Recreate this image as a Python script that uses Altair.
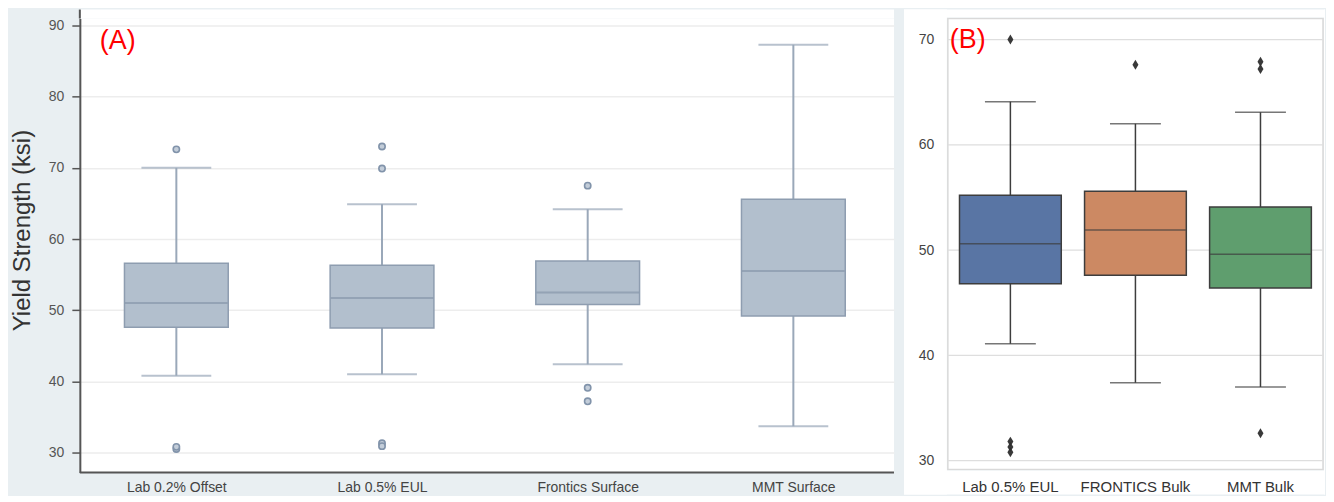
import json
import altair as alt
import pandas as pd

# ---------------- Panel A data (box statistics) ----------------
A_CATS = ["Lab 0.2% Offset", "Lab 0.5% EUL", "Frontics Surface", "MMT Surface"]
A_LO = [40.8, 41.0, 42.4, 33.7]
A_Q1 = [47.6, 47.5, 50.8, 49.2]
A_MED = [51.0, 51.7, 52.5, 55.5]
A_Q3 = [56.6, 56.3, 56.9, 65.6]
A_HI = [70.0, 64.9, 64.2, 87.3]
A_OUT_CAT = ["Lab 0.2% Offset", "Lab 0.2% Offset", "Lab 0.2% Offset",
             "Lab 0.5% EUL", "Lab 0.5% EUL", "Lab 0.5% EUL", "Lab 0.5% EUL",
             "Frontics Surface", "Frontics Surface", "Frontics Surface"]
A_OUT_VAL = [72.6, 30.5, 30.8, 73.0, 69.9, 31.3, 30.9, 67.5, 39.1, 37.2]
A_TICKS = [30, 40, 50, 60, 70, 80, 90]

# ---------------- Panel B data ----------------
B_CATS = ["Lab 0.5% EUL", "FRONTICS Bulk", "MMT Bulk"]
B_LO = [41.1, 37.4, 37.0]
B_Q1 = [46.8, 47.6, 46.4]
B_MED = [50.6, 51.9, 49.6]
B_Q3 = [55.2, 55.6, 54.1]
B_HI = [64.1, 62.0, 63.1]
B_OUT_CAT = ["Lab 0.5% EUL", "Lab 0.5% EUL", "Lab 0.5% EUL", "Lab 0.5% EUL",
             "FRONTICS Bulk", "MMT Bulk", "MMT Bulk", "MMT Bulk"]
B_OUT_VAL = [70.0, 31.8, 31.3, 30.8, 67.6, 67.9, 67.2, 32.6]
B_COLORS = ["#5975a4", "#cc8963", "#5f9e6e"]
B_TICKS = [30, 40, 50, 60, 70]

FONT = "Liberation Sans"
BG = "#e9eff2"

A_POS = list(range(1, len(A_CATS) + 1))
a_box = pd.DataFrame({"cat": A_CATS, "pos": A_POS, "lo": A_LO, "q1": A_Q1, "med": A_MED,
                      "q3": A_Q3, "hi": A_HI})
a_out = pd.DataFrame({"cat": A_OUT_CAT, "pos": [A_CATS.index(c) + 1 for c in A_OUT_CAT],
                      "v": A_OUT_VAL})
b_box = pd.DataFrame({"cat": B_CATS, "lo": B_LO, "q1": B_Q1, "med": B_MED, "q3": B_Q3, "hi": B_HI})
b_out = pd.DataFrame({"cat": B_OUT_CAT, "v": B_OUT_VAL})
b_grid = pd.DataFrame({"g": B_TICKS})
one = pd.DataFrame({"k": [0]})

# ---------------- Panel A ----------------
WA, HA = 816, 455
xA_scale = alt.Scale(domain=[0.555, 4.465], nice=False, zero=False)
xA = alt.X("pos:Q", scale=xA_scale,
           axis=alt.Axis(title=None, values=A_POS, labelExpr=f"{json.dumps(A_CATS)}[datum.value - 1]",
                         labelAngle=0, ticks=False, domain=False, grid=False,
                         labelFont=FONT, labelFontSize=14, labelColor="#444444",
                         labelPadding=8))
yA_scale = alt.Scale(domain=[27.2, 90.98], nice=False, zero=False)
yA = alt.Y("q1:Q", scale=yA_scale,
           axis=alt.Axis(title="Yield Strength (ksi)", values=A_TICKS, grid=True,
                         gridColor="#ededed", gridWidth=1.5, domainColor="#555555", domainWidth=2,
                         tickColor="#555555", tickWidth=1.5, tickSize=8, labelPadding=8,
                         labelFont=FONT, labelFontSize=14, labelColor="#555555",
                         minExtent=32, maxExtent=32, titlePadding=13, titleFont=FONT,
                         titleFontSize=24, titleFontWeight="normal", titleColor="#333333",
                         titleY=212))

A_BOX_FILL = "#b2bfcd"
A_STROKE = "#8e9db0"
A_WHISK = "#9aa8b9"

# decorations: white strip above plot, y-axis line extension, bottom axis line, left anchor
a_top_bg = alt.Chart(one).mark_rect(fill="white").encode(
    x=alt.value(0), x2=alt.value(WA), y=alt.value(-9), y2=alt.value(0))
a_top_axis = alt.Chart(one).mark_rule(color="#555555", strokeWidth=2).encode(
    x=alt.value(0), y=alt.value(-9), y2=alt.value(0))
a_bottom_axis = alt.Chart(one).mark_rule(color="#555555", strokeWidth=2).encode(
    x=alt.value(0), x2=alt.value(WA), y=alt.value(HA))
a_anchor = alt.Chart(one).mark_rect(fill=BG).encode(
    x=alt.value(-72), x2=alt.value(-71), y=alt.value(0), y2=alt.value(1))

a_base = alt.Chart(a_box)
a_whisk = a_base.mark_rule(color=A_WHISK, strokeWidth=2).encode(
    x=xA, y=alt.Y("lo:Q", scale=yA_scale), y2="hi:Q")
a_rect = a_base.mark_bar(size=104, fill=A_BOX_FILL, stroke=A_STROKE, strokeWidth=1.5).encode(
    x=xA, y=yA, y2="q3:Q")
a_med = a_base.mark_tick(orient="horizontal", size=103, thickness=2, color="#8797ab").encode(
    x=xA, y=alt.Y("med:Q", scale=yA_scale))
a_cap_lo = a_base.mark_tick(orient="horizontal", size=70, thickness=2, color=A_WHISK).encode(
    x=xA, y=alt.Y("lo:Q", scale=yA_scale))
a_cap_hi = a_base.mark_tick(orient="horizontal", size=70, thickness=2, color=A_WHISK).encode(
    x=xA, y=alt.Y("hi:Q", scale=yA_scale))
a_pts = alt.Chart(a_out).mark_point(shape="circle", size=40, filled=False, fill="#c3cdd9",
                                    fillOpacity=1, stroke="#8193aa", strokeWidth=1.6).encode(
    x=alt.X("pos:Q", scale=xA_scale), y=alt.Y("v:Q", scale=yA_scale))
a_lab = alt.Chart(one).mark_text(text="(A)", color="#ff0000", font=FONT, fontSize=27,
                                 align="left", baseline="alphabetic").encode(
    x=alt.value(20), y=alt.value(31))

panelA = alt.layer(a_anchor, a_top_bg, a_top_axis, a_whisk, a_rect, a_med, a_cap_lo,
                   a_cap_hi, a_pts, a_bottom_axis, a_lab).properties(
    width=WA, height=HA, view=alt.ViewBackground(fill="white", strokeWidth=0))

# ---------------- Panel B ----------------
WB, HB = 376, 452
BOT = 25
xB = alt.X("cat:N", sort=B_CATS,
           scale=alt.Scale(domain=B_CATS, paddingInner=0, paddingOuter=0),
           axis=alt.Axis(title=None, labelAngle=0, ticks=False, domain=False, grid=False,
                         labelFont=FONT, labelFontSize=15, labelColor="#333333",
                         labelPadding=10, zindex=1))
yB_scale = alt.Scale(domain=[29.15, 72.0], nice=False, zero=False)
yB = alt.Y("q1:Q", scale=yB_scale,
           axis=alt.Axis(title=None, values=B_TICKS, grid=False, ticks=False, domain=False,
                         labelFont=FONT, labelFontSize=14, labelColor="#444444",
                         labelPadding=14, zindex=1))

b_bg_left = alt.Chart(one).mark_rect(fill="white").encode(
    x=alt.value(-44), x2=alt.value(-1), y=alt.value(-9), y2=alt.value(HB + BOT))
b_bg_top = alt.Chart(one).mark_rect(fill="white").encode(
    x=alt.value(-44), x2=alt.value(WB + 2), y=alt.value(-9), y2=alt.value(-1))
b_bg_bot = alt.Chart(one).mark_rect(fill="white").encode(
    x=alt.value(-44), x2=alt.value(WB + 2), y=alt.value(HB + 1), y2=alt.value(HB + BOT))
b_bg_right = alt.Chart(one).mark_rect(fill="white").encode(
    x=alt.value(WB + 1), x2=alt.value(WB + 2), y=alt.value(-9), y2=alt.value(HB + BOT))
b_gridl = alt.Chart(b_grid).mark_rule(color="#dedede", strokeWidth=1.2).encode(
    y=alt.Y("g:Q", scale=yB_scale))

B_EDGE = "#3d3d3d"
b_base = alt.Chart(b_box)
b_whisk = b_base.mark_rule(color=B_EDGE, strokeWidth=1.5).encode(
    x=xB, y=alt.Y("lo:Q", scale=yB_scale), y2="hi:Q")
b_rect = b_base.mark_bar(size=102, stroke=B_EDGE, strokeWidth=1.5).encode(
    x=xB, y=yB, y2="q3:Q",
    fill=alt.Fill("cat:N", scale=alt.Scale(domain=B_CATS, range=B_COLORS), legend=None))
b_med = b_base.mark_tick(size=101, thickness=1.5, color=B_EDGE).encode(
    x=xB, y=alt.Y("med:Q", scale=yB_scale))
b_cap_lo = b_base.mark_tick(size=51, thickness=1.5, color=B_EDGE).encode(
    x=xB, y=alt.Y("lo:Q", scale=yB_scale))
b_cap_hi = b_base.mark_tick(size=51, thickness=1.5, color=B_EDGE).encode(
    x=xB, y=alt.Y("hi:Q", scale=yB_scale))
b_pts = alt.Chart(b_out).mark_point(shape="M0,-1L0.6,0L0,1L-0.6,0Z", size=100, filled=True,
                                    color="#2e2e2e", opacity=0.95).encode(
    x=xB, y=alt.Y("v:Q", scale=yB_scale))
b_lab = alt.Chart(one).mark_text(text="(B)", color="#ff0000", font=FONT, fontSize=27,
                                 align="left", baseline="alphabetic").encode(
    x=alt.value(2), y=alt.value(30))

panelB = alt.layer(b_bg_left, b_bg_top, b_bg_bot, b_bg_right, b_gridl, b_whisk, b_rect,
                   b_med, b_cap_lo, b_cap_hi, b_pts, b_lab).properties(
    width=WB, height=HB, view=alt.ViewBackground(fill="white", stroke="#d9d9d9", strokeWidth=1.5))

chart = alt.hconcat(panelA, panelB, spacing=8).properties(
    background=BG,
    padding={"left": 0, "top": 0, "right": 0, "bottom": 0},
)

chart.save("out.html", embed_options={"renderer": "svg", "actions": False})
